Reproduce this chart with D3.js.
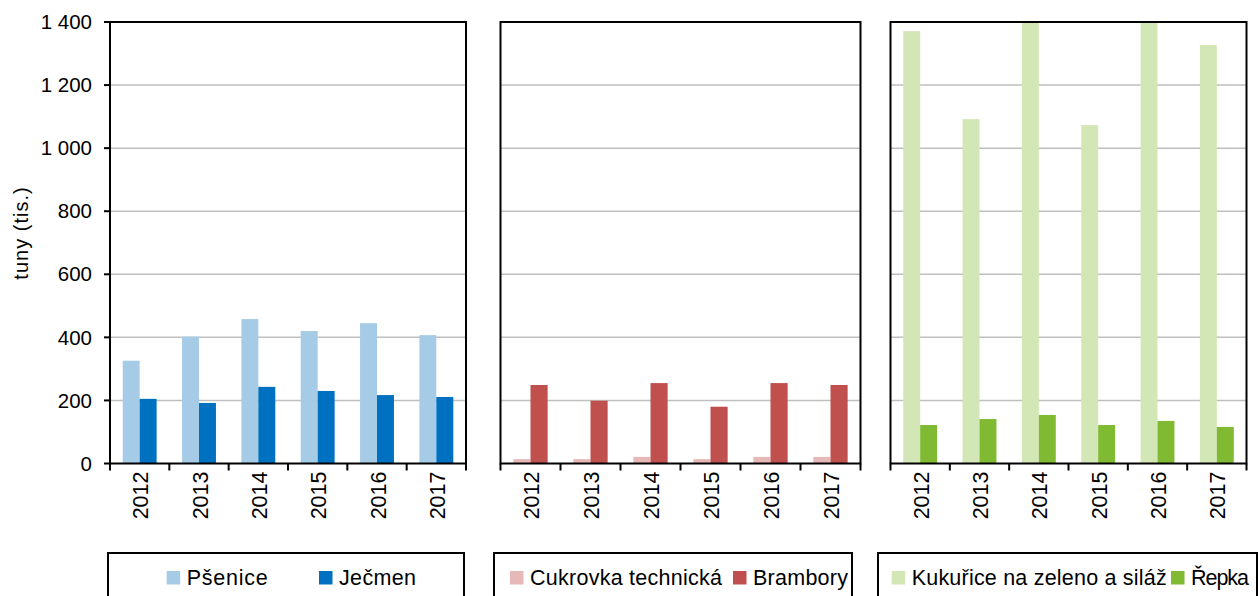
<!DOCTYPE html>
<html>
<head>
<meta charset="utf-8">
<script src="https://cdn.jsdelivr.net/npm/d3@7"></script>
<style>
  html, body { margin: 0; padding: 0; background: #fff; }
  svg { display: block; font-family: "Liberation Sans", Arial, sans-serif; }
</style>
</head>
<body>
<svg id="chart" width="1258" height="596"></svg>
<script>
// ---- data ----
const years = ["2012", "2013", "2014", "2015", "2016", "2017"];
const psenice = [326, 402, 458, 420, 445, 407];
const jecmen = [205, 192, 243, 230, 217, 211];
const cukrovka = [14, 14, 21, 14, 21, 21];
const brambory = [249, 199, 255, 180, 255, 249];
const kukurice = [1371, 1092, 1400, 1073, 1400, 1327];
const repka = [122, 141, 154, 122, 135, 116];
const yTicks = [0, 200, 400, 600, 800, 1000, 1200, 1400];
const yTitle = "tuny (tis.)";

const panels = [
  { x0: 110, x1: 466, yLabels: true,
    series: [{ name: "Pšenice", values: psenice, color: "#a6cbe6", tw: 81 },
             { name: "Ječmen", values: jecmen, color: "#0070c0", tw: 77 }],
    legend: { box: [108, 464], items: [166.7, 319] } },
  { x0: 500.5, x1: 860.5, yLabels: false,
    series: [{ name: "Cukrovka technická", values: cukrovka, color: "#e6b9b8", tw: 192 },
             { name: "Brambory", values: brambory, color: "#c0504d", tw: 95 }],
    legend: { box: [494, 852], items: [510, 733] } },
  { x0: 890.5, x1: 1246.5, yLabels: false,
    series: [{ name: "Kukuřice na zeleno a siláž", values: kukurice, color: "#d3e7b6", tw: 255 },
             { name: "Řepka", values: repka, color: "#7fba32", tw: 58 }],
    legend: { box: [878, 1257], items: [891.7, 1171] } }
];

const svg = d3.select("#chart");
svg.append("rect").attr("width", 1258).attr("height", 596).attr("fill", "#fff");

const yTop = 22, yBot = 463.5;
const y = d3.scaleLinear().domain([0, 1400]).range([yBot, yTop]);

const defs = svg.append("defs");

panels.forEach((p, pi) => {
  const g = svg.append("g");
  const x = d3.scaleBand().domain(years).range([p.x0, p.x1]).padding(0);
  const xs = d3.scaleBand().domain(p.series.map(s => s.name))
    .range([0, x.bandwidth()]).paddingInner(0).paddingOuter(0.75);

  // gridlines
  g.append("g")
    .selectAll("line").data(yTicks.filter(t => t > 0 && t < 1400)).join("line")
    .attr("x1", p.x0).attr("x2", p.x1)
    .attr("y1", d => y(d)).attr("y2", d => y(d))
    .attr("stroke", "#bfbfbf").attr("stroke-width", 1.5);

  // clip
  defs.append("clipPath").attr("id", "clip" + pi)
    .append("rect").attr("x", p.x0).attr("y", yTop)
    .attr("width", p.x1 - p.x0).attr("height", yBot - yTop);

  // bars
  const bars = g.append("g").attr("clip-path", `url(#clip${pi})`);
  p.series.forEach(s => {
    bars.selectAll(null).data(years).join("rect")
      .attr("x", d => x(d) + xs(s.name))
      .attr("width", xs.bandwidth())
      .attr("y", (d, i) => y(s.values[i]))
      .attr("height", (d, i) => y(0) - y(s.values[i]))
      .attr("fill", s.color);
  });

  // frame
  g.append("rect")
    .attr("x", p.x0).attr("y", yTop)
    .attr("width", p.x1 - p.x0).attr("height", yBot - yTop)
    .attr("fill", "none").attr("stroke", "#000").attr("stroke-width", 2);

  // x axis ticks (between bands)
  const xTickPos = years.map(d => x(d)).concat([p.x1]);
  g.append("g").selectAll("line").data(xTickPos).join("line")
    .attr("x1", d => d).attr("x2", d => d)
    .attr("y1", yBot).attr("y2", yBot + 7)
    .attr("stroke", "#000").attr("stroke-width", 2);

  // x labels
  g.append("g").selectAll("text").data(years).join("text")
    .attr("transform", d => `translate(${x(d) + x.bandwidth() / 2 + 1},${yBot + 8}) rotate(-90)`)
    .attr("text-anchor", "end")
    .attr("dy", "0.35em")
    .attr("font-size", 21.5)
    .attr("fill", "#000")
    .text(d => d);

  // y axis
  if (p.yLabels) {
    g.append("g").selectAll("line").data(yTicks).join("line")
      .attr("x1", p.x0 - 6).attr("x2", p.x0)
      .attr("y1", d => y(d)).attr("y2", d => y(d))
      .attr("stroke", "#000").attr("stroke-width", 2);
    g.append("g").selectAll("text").data(yTicks).join("text")
      .attr("x", p.x0 - 18).attr("y", d => y(d))
      .attr("dy", "0.35em")
      .attr("text-anchor", "end")
      .attr("font-size", 20.5)
      .attr("fill", "#000")
      .text(d => d3.format(",")(d).replace(",", " "));
  }

  // legend
  const lg = svg.append("g");
  lg.append("rect")
    .attr("x", p.legend.box[0]).attr("y", 553)
    .attr("width", p.legend.box[1] - p.legend.box[0]).attr("height", 60)
    .attr("fill", "#fff").attr("stroke", "#000").attr("stroke-width", 2);
  p.series.forEach((s, si) => {
    const lx = p.legend.items[si];
    lg.append("rect").attr("x", lx).attr("y", 571).attr("width", 13.5).attr("height", 13.5)
      .attr("fill", s.color);
    lg.append("text").attr("x", lx + 20).attr("y", 585)
      .attr("font-size", 21.5).attr("fill", "#000")
      .attr("textLength", s.tw).attr("lengthAdjust", "spacing")
      .text(s.name);
  });
});

// y-axis title
svg.append("text")
  .attr("transform", "translate(21,233) rotate(-90)")
  .attr("text-anchor", "middle")
  .attr("dy", "0.35em")
  .attr("font-size", 20)
  .attr("letter-spacing", 1)
  .attr("fill", "#000")
  .text(yTitle);
</script>
</body>
</html>
